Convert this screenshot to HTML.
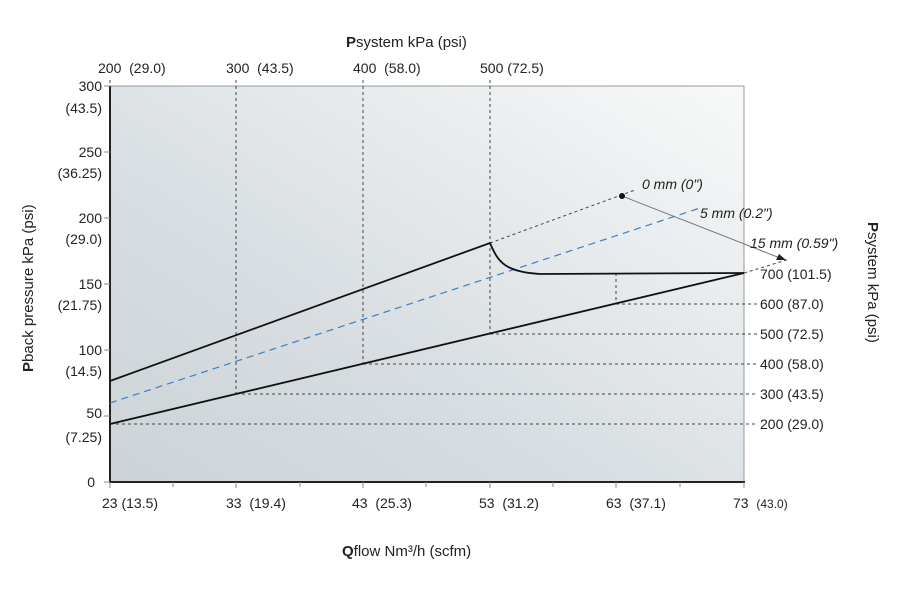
<!DOCTYPE html>
<html><head><style>body{margin:0;background:#fff}svg{display:block}text{font-family:"Liberation Sans",sans-serif;font-size:14px;fill:#222;white-space:pre}</style></head><body>
<svg width="900" height="592" xmlns="http://www.w3.org/2000/svg" xml:space="preserve">
<defs><linearGradient id="g" x1="0" y1="1" x2="1" y2="0"><stop offset="0" stop-color="#cdd4d8"/><stop offset="0.35" stop-color="#d6dce0"/><stop offset="1" stop-color="#f8f9f9"/></linearGradient></defs>
<rect x="110" y="86" width="634" height="396" fill="url(#g)" stroke="#999" stroke-width="1"/>
<line x1="110" y1="86" x2="110" y2="483" stroke="#222" stroke-width="2"/>
<line x1="109" y1="482" x2="745" y2="482" stroke="#222" stroke-width="2"/>
<g stroke="#888" stroke-width="1">
<line x1="104" y1="86" x2="110" y2="86"/><line x1="104" y1="152" x2="110" y2="152"/><line x1="104" y1="218" x2="110" y2="218"/><line x1="104" y1="284" x2="110" y2="284"/><line x1="104" y1="350" x2="110" y2="350"/><line x1="104" y1="416" x2="110" y2="416"/><line x1="104" y1="482" x2="110" y2="482"/>
<line x1="110" y1="482" x2="110" y2="488"/><line x1="173" y1="482" x2="173" y2="487"/><line x1="236" y1="482" x2="236" y2="488"/><line x1="300" y1="482" x2="300" y2="487"/><line x1="363" y1="482" x2="363" y2="488"/><line x1="426" y1="482" x2="426" y2="487"/><line x1="490" y1="482" x2="490" y2="488"/><line x1="553" y1="482" x2="553" y2="487"/><line x1="616" y1="482" x2="616" y2="488"/><line x1="680" y1="482" x2="680" y2="487"/><line x1="744" y1="482" x2="744" y2="488"/>
</g>
<g stroke="#444" stroke-width="1" stroke-dasharray="3,3" fill="none">
<line x1="110" y1="80" x2="110" y2="86"/>
<line x1="236" y1="80" x2="236" y2="394"/><line x1="363" y1="80" x2="363" y2="364"/><line x1="490" y1="80" x2="490" y2="334"/><line x1="616" y1="273" x2="616" y2="304"/>
<line x1="110" y1="424" x2="757" y2="424"/><line x1="236" y1="394" x2="757" y2="394"/><line x1="363" y1="364" x2="757" y2="364"/><line x1="490" y1="334" x2="757" y2="334"/><line x1="616" y1="304" x2="757" y2="304"/>
<line x1="490" y1="243" x2="635" y2="190"/><line x1="744" y1="273" x2="790" y2="259"/>
</g>
<path d="M110 403 L700 208" stroke="#3d7fc4" stroke-width="1.2" stroke-dasharray="7,5" fill="none"/>
<path d="M110 424 L744 273" stroke="#111" stroke-width="1.8" fill="none"/>
<path d="M110 381 L490 243 C498 262 505 272 540 274 L744 273" stroke="#111" stroke-width="1.8" fill="none"/>
<line x1="622" y1="196" x2="780" y2="258" stroke="#777" stroke-width="1"/>
<path d="M786 260 L776 260 L779 254 Z" fill="#222"/>
<circle cx="622" cy="196" r="3" fill="#111"/>
<text x="642" y="189" style="font-style:italic">0 mm (0")</text>
<text x="700" y="218" style="font-style:italic">5 mm (0.2")</text>
<text x="750" y="248" style="font-style:italic">15 mm (0.59")</text>
<text x="760" y="279">700 (101.5)</text><text x="760" y="309">600 (87.0)</text><text x="760" y="339">500 (72.5)</text><text x="760" y="369">400 (58.0)</text><text x="760" y="399">300 (43.5)</text><text x="760" y="429">200 (29.0)</text>
<g text-anchor="end">
<text x="102" y="91">300</text><text x="102" y="113">(43.5)</text>
<text x="102" y="157">250</text><text x="102" y="178">(36.25)</text>
<text x="102" y="223">200</text><text x="102" y="244">(29.0)</text>
<text x="102" y="289">150</text><text x="102" y="310">(21.75)</text>
<text x="102" y="355">100</text><text x="102" y="376">(14.5)</text>
<text x="102" y="418">50</text><text x="102" y="442">(7.25)</text>
<text x="95" y="487">0</text>
</g>
<text x="98" y="73">200  (29.0)</text><text x="226" y="73">300  (43.5)</text><text x="353" y="73">400  (58.0)</text><text x="480" y="73">500 (72.5)</text>
<text x="346" y="47" style="font-size:15px"><tspan font-weight="bold">P</tspan>system kPa (psi)</text>
<text x="102" y="508">23 (13.5)</text><text x="226" y="508">33  (19.4)</text><text x="352" y="508">43  (25.3)</text><text x="479" y="508">53  (31.2)</text><text x="606" y="508">63  (37.1)</text><text x="733" y="508">73  <tspan style="font-size:12px">(43.0)</tspan></text>
<text x="342" y="556" style="font-size:15px"><tspan font-weight="bold">Q</tspan>flow Nm³/h (scfm)</text>
<text transform="translate(33,372) rotate(-90)" style="font-size:15px"><tspan font-weight="bold">P</tspan>back pressure kPa (psi)</text>
<text transform="translate(868,222) rotate(90)" style="font-size:15px"><tspan font-weight="bold">P</tspan>system kPa (psi)</text>
</svg>
</body></html>
